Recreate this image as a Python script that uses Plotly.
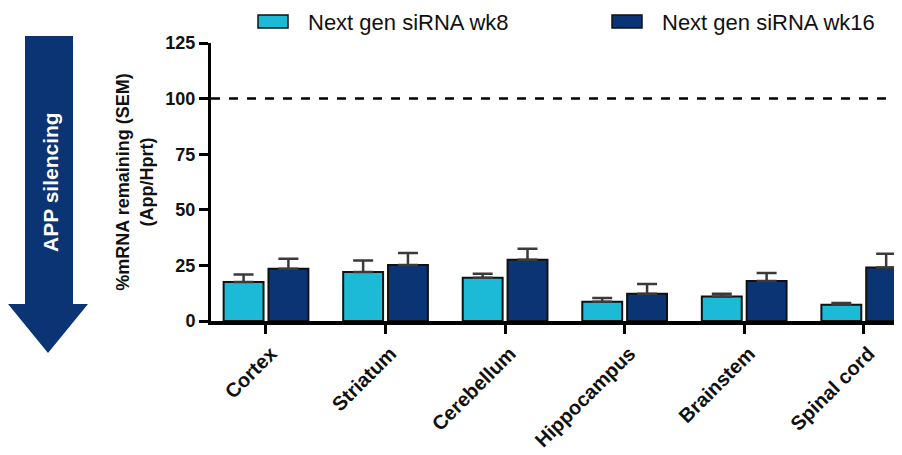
import plotly.graph_objects as go

regions = ["Cortex", "Striatum", "Cerebellum", "Hippocampus", "Brainstem", "Spinal cord"]
wk8_mean = [17.5, 22.0, 19.5, 8.7, 11.0, 7.3]
wk8_sem = [3.4, 5.2, 1.7, 1.6, 1.2, 0.8]
wk16_mean = [23.5, 25.2, 27.5, 12.2, 18.0, 24.0]
wk16_sem = [4.5, 5.4, 5.0, 4.4, 3.6, 6.2]
series_names = ["Next gen siRNA wk8", "Next gen siRNA wk16"]
y_ticks = [0, 25, 50, 75, 100, 125]
reference_level = 100

C_LIGHT = "#1cbad6"
C_DARK = "#0b3474"
FONT = "Arial, Liberation Sans, sans-serif"

OFF = 8  # page body margin
W, H = 902 - OFF, 455 - OFF
# plot area in page pixels: x 211..902, y 43..321
L, R, T, B = 211 - OFF, 0, 43 - OFF, 455 - 321


def px(x):  # page pixel -> paper x
    return (x - 211) / (902 - 211)


def py(y):  # page pixel -> paper y
    return (321 - y) / (321 - 43)


fig = go.Figure()
for name, mean, sem, col in [
    (series_names[0], wk8_mean, wk8_sem, C_LIGHT),
    (series_names[1], wk16_mean, wk16_sem, C_DARK),
]:
    fig.add_trace(go.Bar(
        x=regions, y=mean, name=name,
        marker=dict(color=col, line=dict(color="#111111", width=2)),
        error_y=dict(type="data", array=sem, arrayminus=[0] * len(sem), symmetric=False,
                     color="#3a3a3a", thickness=2.5, width=10),
        showlegend=False,
    ))

fig.update_layout(
    width=W, height=H,
    margin=dict(l=L, r=R, t=T, b=B),
    paper_bgcolor="white", plot_bgcolor="white",
    barmode="group", bargap=0.25, bargroupgap=0.11,
    font=dict(family=FONT, color="black"),
    xaxis=dict(
        range=[-0.46, 5.32], showgrid=False, zeroline=False,
        showline=True, linecolor="black", linewidth=4,
        ticks="outside", ticklen=9, tickwidth=3, tickcolor="black",
        tickangle=-45, ticklabelshift=5,
        tickfont=dict(size=20, family=FONT, weight="bold", color="#111111"),
    ),
    yaxis=dict(
        range=[0, 125], tickvals=y_ticks, showgrid=False, zeroline=False,
        showline=True, linecolor="black", linewidth=3,
        ticks="outside", ticklen=9, tickwidth=3, tickcolor="black",
        tickfont=dict(size=18, family=FONT, weight="bold", color="#111111"),
        title=dict(text="%mRNA remaining (SEM)<br>(App/Hprt)",
                   font=dict(size=18, family=FONT, weight="bold", color="#111111"), standoff=8),
    ),
)

# dashed reference line
fig.add_shape(type="line", xref="paper", yref="y", x0=0, x1=1,
              y0=reference_level, y1=reference_level,
              line=dict(color="black", width=2.5, dash="dash"))

# manual legend
for i, (name, col) in enumerate(zip(series_names, [C_LIGHT, C_DARK])):
    x0 = [258, 612][i]
    fig.add_shape(type="rect", xref="paper", yref="paper",
                  x0=px(x0), x1=px(x0 + 30), y0=py(15), y1=py(28),
                  fillcolor=col, line=dict(color="#111111", width=1.5))
    fig.add_annotation(xref="paper", yref="paper", x=px(x0 + 48), y=py(22),
                       text=name, showarrow=False, xanchor="left", yanchor="middle",
                       font=dict(size=22, family=FONT, color="#111111"))

# left arrow
pts = [(25, 36), (73, 36), (73, 304), (88, 304), (48, 353), (8, 304), (25, 304)]
path = "M " + " L ".join(f"{px(a):.5f},{py(b):.5f}" for a, b in pts) + " Z"
fig.add_shape(type="path", xref="paper", yref="paper", path=path,
              fillcolor="#0b3474", line=dict(width=0), layer="above")
fig.add_annotation(xref="paper", yref="paper", x=px(50), y=py(182),
                   text="APP silencing", showarrow=False, textangle=-90,
                   xanchor="center", yanchor="middle",
                   font=dict(size=21, family=FONT, color="white", weight="bold"))

fig.write_html("out.html")
